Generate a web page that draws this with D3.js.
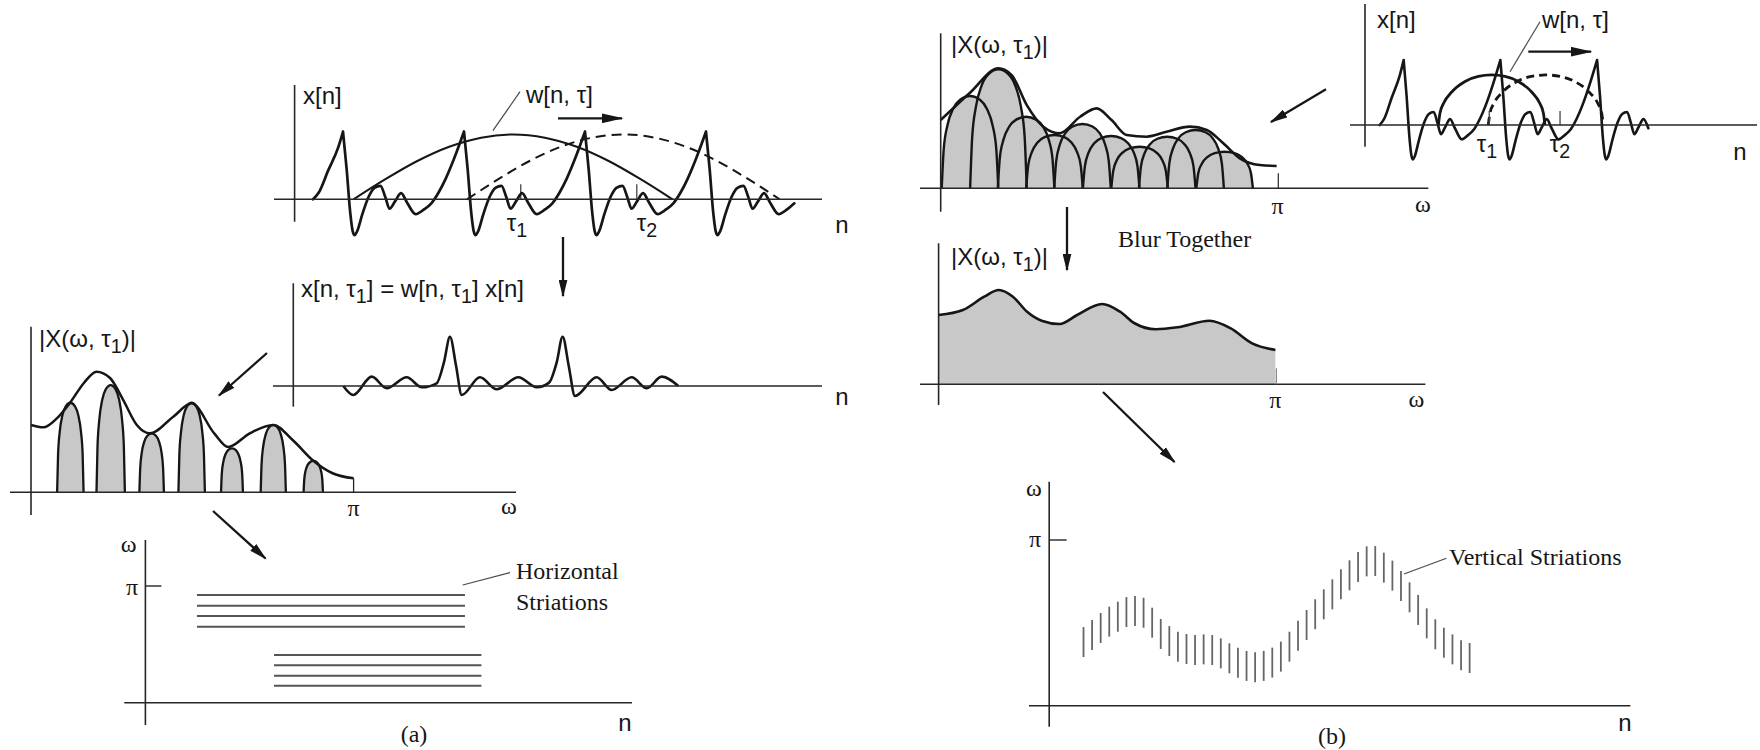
<!DOCTYPE html>
<html>
<head>
<meta charset="utf-8">
<script src="https://cdn.jsdelivr.net/npm/d3@7/dist/d3.min.js"></script>
<style>
html,body{margin:0;padding:0;background:#fff;}
svg{display:block;}
</style>
</head>
<body>
<svg id="fig" width="1760" height="750"></svg>
<script>
// ======================= DATA =======================
// x[n]: pulse train. Time in pitch periods, amplitude relative to a pulse peak.
const pulsePeaksA = [0.4, 1.4, 2.4, 3.4];
const pulsePeaksB = [0.4, 1.4, 2.4];
const pulseOnsetT = [-0.248, -0.2, -0.124, -0.041, 0];
const pulseOnsetV = [0, 0.1, 0.42, 0.76, 1];
const periodT = [0, 0.03, 0.06, 0.08, 0.096, 0.115, 0.16, 0.21, 0.26, 0.31, 0.35, 0.385, 0.43, 0.48, 0.53, 0.60, 0.67, 0.73, 0.79, 0.85, 0.92, 1.0];
const periodV = [1.0, 0.45, -0.2, -0.47, -0.53, -0.48, -0.22, 0.03, 0.17, 0.2, 0.03, -0.14, -0.03, 0.09, -0.05, -0.22, -0.15, -0.06, 0.1, 0.31, 0.61, 1.0];
const signalEnd = [0.74, 0.54];           // phase at which the last period stops: (a), (b)

// analysis windows w[n, tau]
const winShapeAU = [-1, -0.8, -0.6, -0.4, -0.2, 0, 0.2, 0.4, 0.6, 0.8, 1];
const winShapeAV = [0, 0.31, 0.59, 0.81, 0.95, 1, 0.95, 0.81, 0.59, 0.31, 0];
const winShapeBU = [-1, -0.97, -0.9, -0.75, -0.5, -0.25, 0, 0.25, 0.5, 0.75, 0.9, 0.97, 1];
const winShapeBV = [0, 0.24, 0.44, 0.66, 0.87, 0.97, 1, 0.97, 0.87, 0.66, 0.44, 0.24, 0];
const winCentersA = [1.805, 2.717];
const winHalfA = [1.318, 1.292];
const winHeightA = 0.96;
const tauA = [1.869, 2.828];
const winCentersB = [1.31, 1.87];
const winHalfB = [0.551, 0.595];
const winHeightB = 0.77;
const tauB = [1.285, 2.017];

// windowed segment x[n, tau1] = w[n, tau1] x[n]
const segN = [0.413, 0.496, 0.648, 0.772, 0.937, 1.061, 1.185, 1.245, 1.295, 1.345, 1.392, 1.543, 1.681, 1.860, 2.012, 2.114, 2.177, 2.226, 2.276, 2.328, 2.507, 2.631, 2.797, 2.921, 3.045, 3.182];
const segV = [0, -0.133, 0.138, -0.034, 0.129, -0.019, 0.04, 0.35, 0.729, 0.3, -0.133, 0.129, -0.049, 0.129, -0.019, 0.05, 0.35, 0.729, 0.3, -0.148, 0.129, -0.059, 0.129, -0.034, 0.138, 0];

// (a) narrowband |X(w, tau1)|: frequency in units of pi
const envAW = [0, 0.038, 0.081, 0.121, 0.164, 0.203, 0.245, 0.286, 0.328, 0.369, 0.441, 0.498, 0.568, 0.611, 0.678, 0.751, 0.811, 0.876, 0.935, 1.0];
const envAM = [0.449, 0.433, 0.495, 0.597, 0.729, 0.804, 0.762, 0.615, 0.449, 0.393, 0.504, 0.593, 0.393, 0.302, 0.393, 0.449, 0.349, 0.209, 0.127, 0.093];
const lobeACenter = [0.122, 0.247, 0.374, 0.498, 0.623, 0.751, 0.875];
const lobeAHalf = [0.041, 0.044, 0.038, 0.041, 0.034, 0.039, 0.030];
const lobeATop = [0.597, 0.715, 0.393, 0.597, 0.293, 0.449, 0.209];
const lobeShapeU = [-1, -0.93, -0.8, -0.6, -0.35, 0, 0.35, 0.6, 0.8, 0.93, 1];
const lobeShapeV = [0, 0.42, 0.68, 0.86, 0.96, 1, 0.96, 0.86, 0.68, 0.42, 0];

// (b) wideband |X(w, tau1)|
const envBW = [0, 0.0868, 0.171, 0.210, 0.255, 0.304, 0.353, 0.413, 0.462, 0.506, 0.551, 0.610, 0.669, 0.738, 0.788, 0.837, 0.886, 0.945, 0.995];
const envBM = [0.455, 0.637, 0.80, 0.755, 0.555, 0.411, 0.367, 0.477, 0.533, 0.455, 0.355, 0.344, 0.377, 0.411, 0.389, 0.300, 0.200, 0.155, 0.149];
const lobeBCenter = [0.0868, 0.171, 0.253, 0.337, 0.420, 0.505, 0.589, 0.671, 0.755, 0.841];
const lobeBHalf = 0.0838;
const lobeBTop = [0.615, 0.793, 0.477, 0.355, 0.429, 0.349, 0.277, 0.344, 0.389, 0.244];

// (b) blurred spectrum
const blurW = [0, 0.072, 0.135, 0.178, 0.220, 0.262, 0.305, 0.358, 0.410, 0.484, 0.537, 0.580, 0.643, 0.707, 0.802, 0.865, 0.928, 0.997];
const blurM = [0.462, 0.495, 0.584, 0.629, 0.584, 0.484, 0.424, 0.402, 0.462, 0.535, 0.484, 0.407, 0.367, 0.380, 0.424, 0.373, 0.273, 0.229];

// (a) spectrogram: horizontal striations (frequency in units of pi)
const hStriaTop = [0.923, 0.831, 0.743, 0.651];
const hStriaTopSpan = [0.426, 2.641];
const hStriaLow = [0.409, 0.320, 0.231, 0.146];
const hStriaLowSpan = [1.063, 2.777];

// (b) spectrogram: vertical striations (frame index, centre frequency in units of pi)
const vStriaN = [4,5,6,7,8,9,10,11,12,13,14,15,16,17,18,19,20,21,22,23,24,25,26,27,28,29,30,31,32,33,34,35,36,37,38,39,40,41,42,43,44,45,46,47,48,49];
const vStriaW = [0.384,0.427,0.469,0.507,0.537,0.565,0.571,0.561,0.501,0.433,0.390,0.356,0.342,0.336,0.340,0.336,0.316,0.286,0.259,0.240,0.232,0.240,0.260,0.296,0.356,0.422,0.487,0.552,0.612,0.672,0.733,0.787,0.837,0.871,0.873,0.833,0.785,0.722,0.654,0.578,0.497,0.431,0.380,0.340,0.304,0.288];
const vStriaHalf = 0.0905;

// ======================= DRAWING =======================
const svg = d3.select("#fig");
const SANS = "'Liberation Sans', Arial, Helvetica, sans-serif";
const SERIF = "'Liberation Serif', 'Times New Roman', Times, serif";
const INK = "#161616", AXIS = "#262626", GRAY = "#c8c8c8", STRI = "#555", LEAD = "#4a4a4a";
const SANS_SIZE = 24;

const L = {
  aTop:  {ox:294.6,  oy:199.3, kx:121,   ky:67.6,  xAxis:[274, 822],     yAxis:[85, 221.7]},
  aMid:  {ox:293.3,  oy:386,   kx:121,   ky:67.6,  xAxis:[273, 822],     yAxis:[283.3, 406.7]},
  aSpec: {ox:31,     oy:492.3, kx:322.6, ky:150,   xAxis:[10, 516],      yAxis:[326.7, 515]},
  aSpg:  {ox:145.4,  oy:702.7, kx:121,   ky:116.7, xAxis:[124.3, 632],   yAxis:[540, 725]},
  bTop:  {ox:1365,   oy:125,   kx:96.7,  ky:65,    xAxis:[1350, 1757],   yAxis:[4, 146.7]},
  bSpec: {ox:940.7,  oy:188.3, kx:337.6, ky:150,   xAxis:[920, 1428.3],  yAxis:[33.3, 211.7]},
  bBlur: {ox:938.6,  oy:384.3, kx:337.8, ky:150,   xAxis:[920, 1425.4],  yAxis:[243.3, 405]},
  bSpg:  {ox:1049.2, oy:705.7, kx:8.58,  ky:165.7, xAxis:[1029, 1630.4], yAxis:[481.7, 726.7]}
};

const defs = svg.append("defs");
function marker(id, len, wid) {
  defs.append("marker").attr("id", id)
    .attr("viewBox", `0 0 ${len} ${wid}`).attr("refX", len - 1.5).attr("refY", wid / 2)
    .attr("markerWidth", len).attr("markerHeight", wid)
    .attr("markerUnits", "userSpaceOnUse").attr("orient", "auto")
    .append("path").attr("d", `M0,0L${len},${wid / 2}L0,${wid}Z`).attr("fill", INK);
}
marker("ah", 18, 9);
marker("ahR", 22, 10);

function panel(c) {
  const x = d3.scaleLinear().domain([0, 1]).range([c.ox, c.ox + c.kx]);
  const y = d3.scaleLinear().domain([0, 1]).range([c.oy, c.oy - c.ky]);
  const g = svg.append("g");
  const marks = g.append("g");
  const axes = g.append("g").attr("stroke", AXIS).attr("stroke-width", 1.6);
  axes.append("line").attr("x1", c.xAxis[0]).attr("x2", c.xAxis[1]).attr("y1", y(0)).attr("y2", y(0));
  axes.append("line").attr("x1", x(0)).attr("x2", x(0)).attr("y1", c.yAxis[0]).attr("y2", c.yAxis[1]);
  return {x, y, marks, axes};
}

const zip = (a, b) => a.map((v, i) => [v, b[i]]);
const curveLine = (p) => d3.line().x(d => p.x(d[0])).y(d => p.y(d[1])).curve(d3.curveMonotoneX);

function signalSegments(peaks, endT) {
  const onset = zip(pulseOnsetT, pulseOnsetV);
  const period = zip(periodT, periodV);
  const segs = [onset.map(([t, v]) => [peaks[0] + t, v])];
  peaks.forEach((p, i) => {
    const last = i === peaks.length - 1;
    segs.push(period.filter(([t]) => !last || t <= endT).map(([t, v]) => [p + t, v]));
  });
  return segs;
}

function drawPulseTrain(p, peaks, endT, width) {
  const ln = curveLine(p);
  p.marks.append("path")
    .attr("d", signalSegments(peaks, endT).map(s => ln(s)).join(""))
    .attr("fill", "none").attr("stroke", INK).attr("stroke-width", width)
    .attr("stroke-linejoin", "round").attr("stroke-linecap", "round");
}

function drawWindows(p, centers, halves, height, shapeU, shapeV, width, dash) {
  const ln = curveLine(p);
  centers.forEach((c, i) => {
    const pts = shapeU.map((u, k) => [c + u * halves[i], shapeV[k] * height]);
    p.marks.append("path").attr("d", ln(pts))
      .attr("fill", "none").attr("stroke", INK).attr("stroke-width", width)
      .attr("stroke-dasharray", i === 1 ? dash : null);
  });
}

function drawTauTicks(p, taus, h) {
  taus.forEach(t => {
    p.marks.append("line").attr("x1", p.x(t)).attr("x2", p.x(t))
      .attr("y1", p.y(0)).attr("y2", p.y(0) - h)
      .attr("stroke", "#444").attr("stroke-width", 1.3);
  });
}

function drawLobes(p, centers, halves, tops, width) {
  const lobes = centers.map((c, i) => lobeShapeU.map((u, k) => [c + u * (Array.isArray(halves) ? halves[i] : halves), lobeShapeV[k] * tops[i]]));
  const area = d3.area().x(d => p.x(d[0])).y0(p.y(0)).y1(d => p.y(d[1])).curve(d3.curveMonotoneX);
  const ln = curveLine(p);
  p.marks.selectAll(null).data(lobes).join("path").attr("d", area).attr("fill", GRAY);
  p.marks.selectAll(null).data(lobes).join("path").attr("d", ln)
    .attr("fill", "none").attr("stroke", INK).attr("stroke-width", width);
}

// ---------- (a) top : x[n] with sliding window ----------
const aTop = panel(L.aTop);
drawWindows(aTop, winCentersA, winHalfA, winHeightA, winShapeAU, winShapeAV, 2, "10,6");
drawTauTicks(aTop, tauA, 15);
drawPulseTrain(aTop, pulsePeaksA, signalEnd[0], 2.7);

// ---------- (a) middle : windowed segment ----------
const aMid = panel(L.aMid);
aMid.marks.append("path").attr("d", curveLine(aMid)(zip(segN, segV)))
  .attr("fill", "none").attr("stroke", INK).attr("stroke-width", 2.6);

// ---------- (a) narrowband spectrum ----------
const aSpec = panel(L.aSpec);
drawLobes(aSpec, lobeACenter, lobeAHalf, lobeATop, 2.3);
aSpec.marks.append("path").attr("d", curveLine(aSpec)(zip(envAW, envAM)))
  .attr("fill", "none").attr("stroke", INK).attr("stroke-width", 2.5);
aSpec.axes.append("line").attr("x1", aSpec.x(1)).attr("x2", aSpec.x(1))
  .attr("y1", aSpec.y(0)).attr("y2", aSpec.y(envAM[envAM.length - 1])).attr("stroke-width", 1.3);

// ---------- (a) spectrogram ----------
const aSpg = panel(L.aSpg);
aSpg.axes.append("line").attr("x1", aSpg.x(0)).attr("x2", aSpg.x(0) + 16)
  .attr("y1", aSpg.y(1)).attr("y2", aSpg.y(1)).attr("stroke-width", 1.4);
[[hStriaTop, hStriaTopSpan], [hStriaLow, hStriaLowSpan]].forEach(([ws, span]) => {
  aSpg.marks.selectAll(null).data(ws).join("line")
    .attr("x1", aSpg.x(span[0])).attr("x2", aSpg.x(span[1]))
    .attr("y1", d => aSpg.y(d)).attr("y2", d => aSpg.y(d))
    .attr("stroke", STRI).attr("stroke-width", 2);
});

// ---------- (b) top : x[n] with short window ----------
const bTop = panel(L.bTop);
drawWindows(bTop, winCentersB, winHalfB, winHeightB, winShapeBU, winShapeBV, 2.8, "8,5");
drawTauTicks(bTop, tauB, 14);
drawPulseTrain(bTop, pulsePeaksB, signalEnd[1], 2.6);

// ---------- (b) wideband spectrum ----------
const bSpec = panel(L.bSpec);
drawLobes(bSpec, lobeBCenter, lobeBHalf, lobeBTop, 2.4);
bSpec.marks.append("path").attr("d", curveLine(bSpec)(zip(envBW, envBM)))
  .attr("fill", "none").attr("stroke", INK).attr("stroke-width", 2.6);
bSpec.axes.append("line").attr("x1", bSpec.x(1)).attr("x2", bSpec.x(1))
  .attr("y1", bSpec.y(0)).attr("y2", bSpec.y(0) - 15).attr("stroke-width", 1.2);

// ---------- (b) blurred spectrum ----------
const bBlur = panel(L.bBlur);
const blurPts = zip(blurW, blurM);
bBlur.marks.append("path")
  .attr("d", d3.area().x(d => bBlur.x(d[0])).y0(bBlur.y(0)).y1(d => bBlur.y(d[1])).curve(d3.curveMonotoneX)(blurPts))
  .attr("fill", GRAY);
bBlur.marks.append("path").attr("d", curveLine(bBlur)(blurPts))
  .attr("fill", "none").attr("stroke", INK).attr("stroke-width", 2.6);
bBlur.axes.append("line").attr("x1", bBlur.x(1)).attr("x2", bBlur.x(1))
  .attr("y1", bBlur.y(0)).attr("y2", bBlur.y(0) - 16).attr("stroke", "#888").attr("stroke-width", 1.2);

// ---------- (b) spectrogram ----------
const bSpg = panel(L.bSpg);
bSpg.axes.append("line").attr("x1", bSpg.x(0)).attr("x2", bSpg.x(0) + 17.5)
  .attr("y1", bSpg.y(1)).attr("y2", bSpg.y(1)).attr("stroke-width", 1.4);
bSpg.marks.selectAll(null).data(zip(vStriaN, vStriaW)).join("line")
  .attr("x1", d => bSpg.x(d[0])).attr("x2", d => bSpg.x(d[0]))
  .attr("y1", d => bSpg.y(d[1] - vStriaHalf)).attr("y2", d => bSpg.y(d[1] + vStriaHalf))
  .attr("stroke", "#666").attr("stroke-width", 1.8);

// ---------- arrows & leader lines ----------
const arrows = [
  [558, 118.3, 622, 118.3, "ahR"],
  [563, 237, 563, 296, "ah"],
  [267, 353, 219, 395.5, "ah"],
  [213, 511, 265.5, 558.5, "ah"],
  [1326, 89.3, 1271, 122, "ah"],
  [1067, 207, 1067, 270, "ah"],
  [1103, 392, 1174.5, 462, "ah"],
  [1528.3, 51.7, 1591, 51.7, "ahR"]
];
svg.append("g").selectAll("line").data(arrows).join("line")
  .attr("x1", d => d[0]).attr("y1", d => d[1]).attr("x2", d => d[2]).attr("y2", d => d[3])
  .attr("stroke", INK).attr("stroke-width", 2.3).attr("marker-end", d => `url(#${d[4]})`);

const leaders = [
  [492.9, 130.7, 520, 91.7],
  [1510, 71.7, 1540, 21.7],
  [462.7, 585, 510, 572.7],
  [1404, 574, 1446.4, 558.3]
];
svg.append("g").selectAll("line").data(leaders).join("line")
  .attr("x1", d => d[0]).attr("y1", d => d[1]).attr("x2", d => d[2]).attr("y2", d => d[3])
  .attr("stroke", LEAD).attr("stroke-width", 1.2);

// ---------- text ----------
function label(x, y, parts, o = {}) {
  const size = o.size || SANS_SIZE;
  const t = svg.append("text").attr("x", x).attr("y", y)
    .attr("font-family", o.serif ? SERIF : SANS).attr("font-size", size)
    .attr("fill", INK).attr("text-anchor", o.anchor || "start");
  if (typeof parts === "string") parts = [[parts, false]];
  let shift = 0;
  parts.forEach(([s, sub]) => {
    const want = sub ? 6 : 0;
    const sp = t.append("tspan").text(s);
    if (want !== shift) sp.attr("dy", want - shift);
    if (sub) sp.attr("font-size", size * 0.82);
    shift = want;
  });
}
const tau1 = [["τ", false], ["1", true]];
const tau2 = [["τ", false], ["2", true]];
const Xlab = [["|X(ω, τ", false], ["1", true], [")|", false]];

// (a)
label(303, 104, "x[n]");
label(526, 103, "w[n, τ]");
label(517, 231, tau1, {anchor: "middle"});
label(647, 231, tau2, {anchor: "middle"});
label(842, 233, "n", {anchor: "middle"});
label(301, 297, [["x[n, τ", false], ["1", true], ["] = w[n, τ", false], ["1", true], ["] x[n]", false]]);
label(842, 405, "n", {anchor: "middle"});
label(39, 347, Xlab);
label(353.6, 516, "π", {anchor: "middle", serif: true, size: 24});
label(509, 514, "ω", {anchor: "middle", serif: true, size: 24});
label(128.6, 552, "ω", {anchor: "middle", serif: true, size: 24});
label(132, 595, "π", {anchor: "middle", serif: true, size: 24});
label(625, 731, "n", {anchor: "middle"});
label(414, 742, "(a)", {anchor: "middle", serif: true, size: 24});
label(516, 579, "Horizontal", {serif: true, size: 24});
label(516, 610, "Striations", {serif: true, size: 24});

// (b)
label(1377, 28, "x[n]");
label(1542, 28, "w[n, τ]");
label(1487, 152, tau1, {anchor: "middle"});
label(1560, 152, tau2, {anchor: "middle"});
label(1740, 160, "n", {anchor: "middle"});
label(951, 53, Xlab);
label(1277.5, 214, "π", {anchor: "middle", serif: true, size: 24});
label(1423, 212, "ω", {anchor: "middle", serif: true, size: 24});
label(951, 265, Xlab);
label(1118, 247, "Blur Together", {serif: true, size: 24});
label(1275.4, 408, "π", {anchor: "middle", serif: true, size: 24});
label(1416.4, 407, "ω", {anchor: "middle", serif: true, size: 24});
label(1034, 496, "ω", {anchor: "middle", serif: true, size: 24});
label(1035, 547, "π", {anchor: "middle", serif: true, size: 24});
label(1625, 731, "n", {anchor: "middle"});
label(1332, 744, "(b)", {anchor: "middle", serif: true, size: 24});
label(1449, 565, "Vertical Striations", {serif: true, size: 24});
</script>
</body>
</html>
